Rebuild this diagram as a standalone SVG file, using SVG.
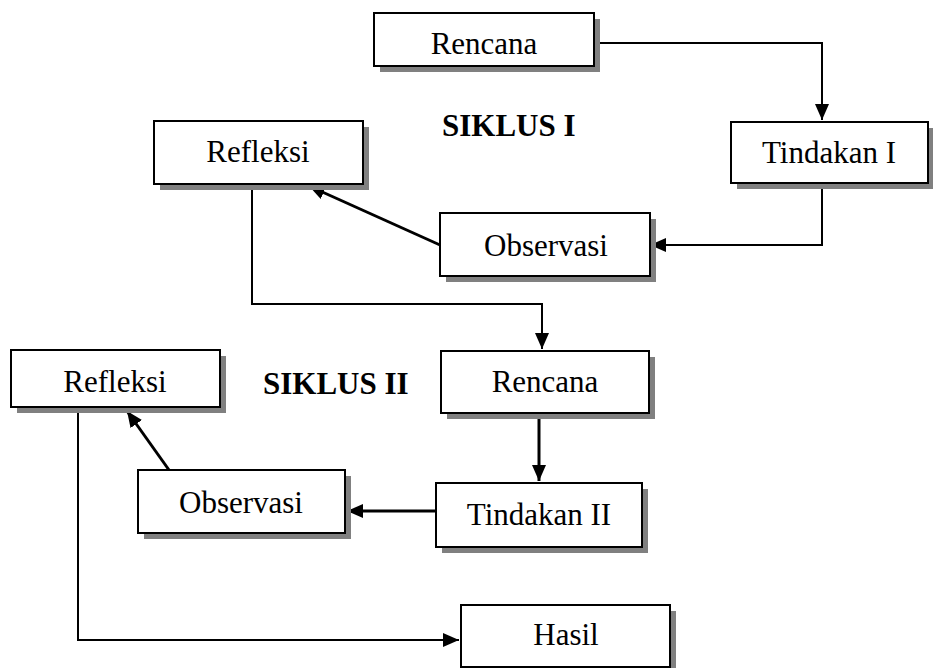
<svg xmlns="http://www.w3.org/2000/svg" width="933" height="668" viewBox="0 0 933 668">
<style>
.sh{fill:#808080;stroke:none}
.bx{fill:#fff;stroke:#000;stroke-width:2}
.t{font-family:"Liberation Serif","Times New Roman",serif;font-size:31px;text-anchor:middle;fill:#000}
.h{font-family:"Liberation Serif","Times New Roman",serif;font-size:31px;font-weight:bold;fill:#000}
.c{fill:none;stroke:#000;stroke-width:2}
.ct{fill:none;stroke:#000;stroke-width:3}
</style>
<defs>
<marker id="ar" markerWidth="10" markerHeight="10" refX="9" refY="5" orient="auto" markerUnits="userSpaceOnUse" viewBox="0 0 10 10">
<path d="M0,0 L10,5 L0,10 z" fill="#000"/>
</marker>
<marker id="ar2" markerWidth="16" markerHeight="14" refX="16" refY="7" orient="auto" markerUnits="userSpaceOnUse" viewBox="0 0 16 14">
<path d="M0,0 L16,7 L0,14 z" fill="#000"/>
</marker>
</defs>
<g id="connectors">
<polyline class="c" points="594,43 822,43 822,120" marker-end="url(#ar2)"/>
<polyline class="c" points="822,183 822,245 650,245" marker-end="url(#ar2)"/>
<line class="ct" x1="440" y1="245" x2="309" y2="186" marker-end="url(#ar2)"/>
<polyline class="c" points="252,184 252,304 542,304 542,349" marker-end="url(#ar2)"/>
<line class="ct" x1="539" y1="413" x2="539" y2="481" marker-end="url(#ar2)"/>
<line class="ct" x1="436" y1="511" x2="347" y2="511" marker-end="url(#ar2)"/>
<line class="ct" x1="169" y1="470" x2="127" y2="411" marker-end="url(#ar2)"/>
<polyline class="c" points="78,413 78,640 459,640" marker-end="url(#ar2)"/>
</g>
<g id="rencana1">
<rect class="sh" x="380" y="19" width="220" height="53"/>
<rect class="bx" x="374" y="13" width="220" height="53"/>
<text class="t" x="484" y="54">Rencana</text>
</g>
<g id="tindakan1">
<rect class="sh" x="737" y="128" width="197" height="61"/>
<rect class="bx" x="731" y="122" width="197" height="61"/>
<text class="t" x="829" y="163">Tindakan I</text>
</g>
<g id="siklus1">
<text class="h" x="442" y="136">SIKLUS I</text>
</g>
<g id="refleksi1">
<rect class="sh" x="160" y="127" width="209" height="63"/>
<rect class="bx" x="154" y="121" width="209" height="63"/>
<text class="t" x="258" y="162">Refleksi</text>
</g>
<g id="observasi1">
<rect class="sh" x="446" y="219" width="210" height="63"/>
<rect class="bx" x="440" y="213" width="210" height="63"/>
<text class="t" x="546" y="256">Observasi</text>
</g>
<g id="rencana2">
<rect class="sh" x="447" y="357" width="208" height="62"/>
<rect class="bx" x="441" y="351" width="208" height="62"/>
<text class="t" x="545" y="392">Rencana</text>
</g>
<g id="siklus2">
<text class="h" x="263" y="394">SIKLUS II</text>
</g>
<g id="refleksi2">
<rect class="sh" x="17" y="356" width="209" height="57"/>
<rect class="bx" x="11" y="350" width="209" height="57"/>
<text class="t" x="115" y="392">Refleksi</text>
</g>
<g id="observasi2">
<rect class="sh" x="144" y="476" width="207" height="63"/>
<rect class="bx" x="138" y="470" width="207" height="63"/>
<text class="t" x="241" y="513">Observasi</text>
</g>
<g id="tindakan2">
<rect class="sh" x="442" y="489" width="206" height="64"/>
<rect class="bx" x="436" y="483" width="206" height="64"/>
<text class="t" x="539" y="525">Tindakan II</text>
</g>
<g id="hasil">
<rect class="sh" x="467" y="611" width="209" height="62"/>
<rect class="bx" x="461" y="605" width="209" height="62"/>
<text class="t" x="566" y="645">Hasil</text>
</g>
</svg>
